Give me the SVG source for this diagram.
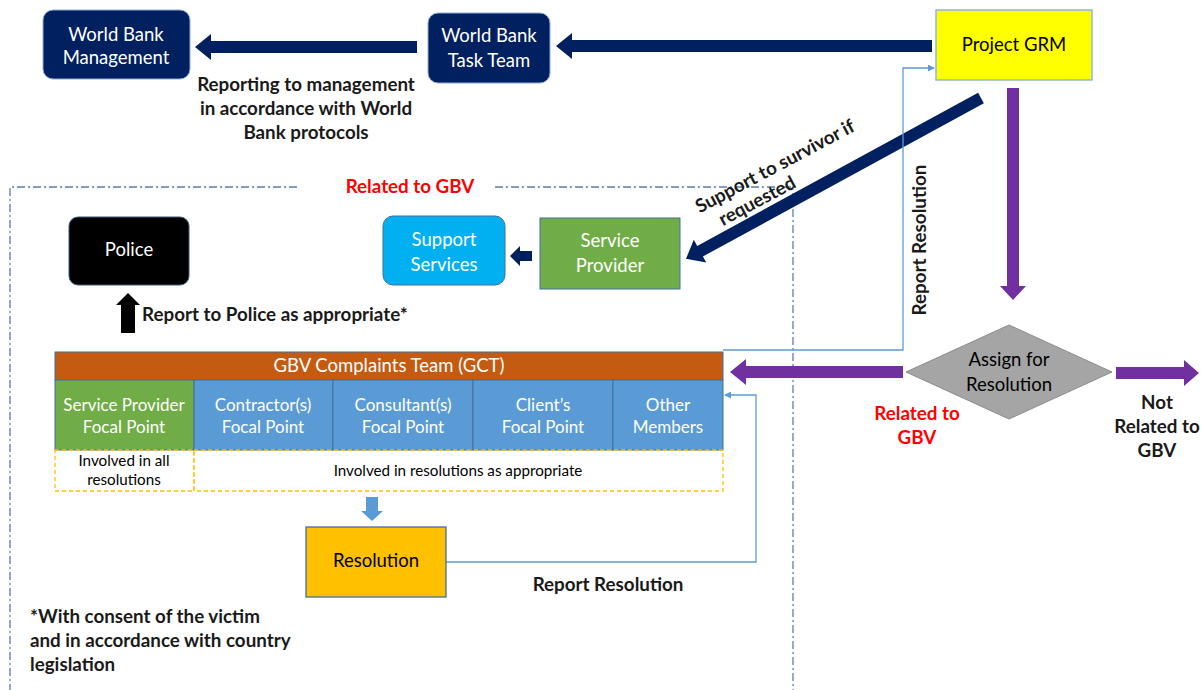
<svg xmlns="http://www.w3.org/2000/svg" width="1201" height="690" viewBox="0 0 1201 690">
<style>
text{font-family:Lato,"Open Sans","Liberation Sans",sans-serif;}
.w{fill:#fff;font-size:18.5px;text-anchor:middle;}
.b{fill:#000;font-size:18.5px;text-anchor:middle;}
.bb{fill:#1a1a1a;font-size:18.8px;font-weight:bold;}
.red{fill:#ff0000;font-size:18.8px;font-weight:bold;text-anchor:middle;}
.cell{fill:#fff;font-size:17px;text-anchor:middle;}
.small{fill:#000;font-size:15.2px;text-anchor:middle;}
.navy{fill:#002060;}
.purple{fill:#7030a0;}
.thin{fill:none;stroke:#5b9bd5;stroke-width:1.3;}
.frame{fill:none;stroke:#5a7fa8;stroke-width:1.3;stroke-dasharray:8 3 2 3;}
.ydash{fill:none;stroke:#ffc000;stroke-width:1.3;stroke-dasharray:4 3;}
</style>
<defs>
<marker id="sa" viewBox="0 0 8 8" refX="7" refY="4" markerWidth="7" markerHeight="7" orient="auto" markerUnits="userSpaceOnUse"><path d="M0,0 L8,4 L0,8 z" fill="#5b9bd5"/></marker>
</defs>

<g id="frame">
<path class="frame" d="M297,187 H10 V690"/>
<path class="frame" d="M495,187 H793 V690"/>
</g>

<g id="connectors">
<polygon class="navy" points="417,41 211,41 211,34 195,47 211,60 211,53 417,53"/>
<polygon class="navy" points="932,40 572,40 572,33 556,46 572,59 572,52 932,52"/>
<polygon class="purple" points="1007,88 1019,88 1019,286 1026,286 1013,300 1000,286 1007,286"/>
<polygon class="navy" transform="translate(981,98) rotate(151.4)" points="0,-6 320,-6 320,-13 336,0 320,13 320,6 0,6"/>
<polygon class="navy" points="532,251 520,251 520,246 510,256 520,266 520,261 532,261"/>
<polygon fill="#000" points="121,333 121,305 116,305 128,293 140,305 135,305 135,333"/>
<polygon class="purple" points="903,366 746,366 746,359 730,372 746,385 746,378 903,378"/>
<polygon class="purple" points="1116,367 1184,367 1184,360 1199,373 1184,386 1184,379 1116,379"/>
<polygon fill="#5b9bd5" points="366,497 378,497 378,511 383,511 372,521 361,511 366,511"/>
<path class="thin" d="M723,350 H903 V68 H934" marker-end="url(#sa)"/>
<path class="thin" d="M446,562 H756 V395 H725" marker-end="url(#sa)"/>
</g>

<g id="wb-management">
<rect x="43" y="10" width="147" height="69" rx="10" fill="#002060" stroke="#8faadc" stroke-width="1"/>
<text class="w" x="116" y="41">World Bank</text>
<text class="w" x="116" y="64">Management</text>
</g>
<g id="wb-task-team">
<rect x="428" y="13" width="122" height="70" rx="10" fill="#002060" stroke="#8faadc" stroke-width="1"/>
<text class="w" x="489" y="42">World Bank</text>
<text class="w" x="489" y="67">Task Team</text>
</g>
<text class="bb" text-anchor="middle" x="306" y="91">Reporting to management</text>
<text class="bb" text-anchor="middle" x="306" y="115">in accordance with World</text>
<text class="bb" text-anchor="middle" x="306" y="139">Bank protocols</text>

<g id="project-grm">
<rect x="936" y="10" width="156" height="70" fill="#ffff00" stroke="#8eb4e3" stroke-width="1.5"/>
<text class="b" x="1014" y="51">Project GRM</text>
</g>

<text class="bb" text-anchor="middle" transform="translate(926,240) rotate(-90)">Report Resolution</text>
<g transform="translate(778,172) rotate(-28)">
<text class="bb" text-anchor="middle" x="0" y="0">Support to survivor if</text>
<text class="bb" text-anchor="middle" x="-32" y="22">requested</text>
</g>

<text class="red" x="410" y="193">Related to GBV</text>

<g id="police">
<rect x="69" y="217" width="120" height="68" rx="9" fill="#000" stroke="#3a5a80" stroke-width="1"/>
<text class="w" x="129" y="256">Police</text>
</g>
<text class="bb" x="142" y="321">Report to Police as appropriate*</text>

<g id="support-services">
<rect x="383" y="216" width="122" height="69" rx="10" fill="#00b0f0" stroke="#41719c" stroke-width="1"/>
<text class="w" x="444" y="246">Support</text>
<text class="w" x="444" y="271">Services</text>
</g>
<g id="service-provider">
<rect x="540" y="218" width="140" height="71" fill="#70ad47" stroke="#41719c" stroke-width="1"/>
<text class="w" x="610" y="247">Service</text>
<text class="w" x="610" y="272">Provider</text>
</g>

<g id="gct">
<rect x="55" y="352" width="668" height="28" fill="#c55a11" stroke="#41719c" stroke-width="1"/>
<text class="w" x="389" y="372">GBV Complaints Team (GCT)</text>
<rect x="55" y="380" width="139" height="70" fill="#70ad47" stroke="#41719c" stroke-width="1"/>
<rect x="194" y="380" width="139" height="70" fill="#5b9bd5" stroke="#41719c" stroke-width="1"/>
<rect x="333" y="380" width="140" height="70" fill="#5b9bd5" stroke="#41719c" stroke-width="1"/>
<rect x="473" y="380" width="140" height="70" fill="#5b9bd5" stroke="#41719c" stroke-width="1"/>
<rect x="613" y="380" width="110" height="70" fill="#5b9bd5" stroke="#41719c" stroke-width="1"/>
<text class="cell" x="124" y="411">Service Provider</text>
<text class="cell" x="124" y="433">Focal Point</text>
<text class="cell" x="263" y="411">Contractor(s)</text>
<text class="cell" x="263" y="433">Focal Point</text>
<text class="cell" x="403" y="411">Consultant(s)</text>
<text class="cell" x="403" y="433">Focal Point</text>
<text class="cell" x="543" y="411">Client’s</text>
<text class="cell" x="543" y="433">Focal Point</text>
<text class="cell" x="668" y="411">Other</text>
<text class="cell" x="668" y="433">Members</text>
<rect class="ydash" x="55" y="450" width="139" height="41"/>
<rect class="ydash" x="194" y="450" width="529" height="41"/>
<text class="small" x="124" y="466">Involved in all</text>
<text class="small" x="124" y="485">resolutions</text>
<text class="small" x="458" y="476">Involved in resolutions as appropriate</text>
</g>

<g id="resolution">
<rect x="306" y="527" width="140" height="70" fill="#ffc000" stroke="#41719c" stroke-width="1.3"/>
<text class="b" x="376" y="567">Resolution</text>
</g>
<text class="bb" text-anchor="middle" x="608" y="591">Report Resolution</text>

<text class="bb" x="30" y="623">*With consent of the victim</text>
<text class="bb" x="30" y="647">and in accordance with country</text>
<text class="bb" x="30" y="671">legislation</text>

<g id="assign">
<polygon points="906,372 1009,325 1112,372 1009,419" fill="#a5a5a5" stroke="#8c8c8c" stroke-width="1"/>
<text class="b" x="1009" y="366" fill="#262626">Assign for</text>
<text class="b" x="1009" y="391" fill="#262626">Resolution</text>
</g>
<text class="red" x="917" y="420">Related to</text>
<text class="red" x="917" y="444">GBV</text>
<text class="bb" text-anchor="middle" x="1157" y="409">Not</text>
<text class="bb" text-anchor="middle" x="1157" y="433">Related to</text>
<text class="bb" text-anchor="middle" x="1157" y="457">GBV</text>
</svg>
